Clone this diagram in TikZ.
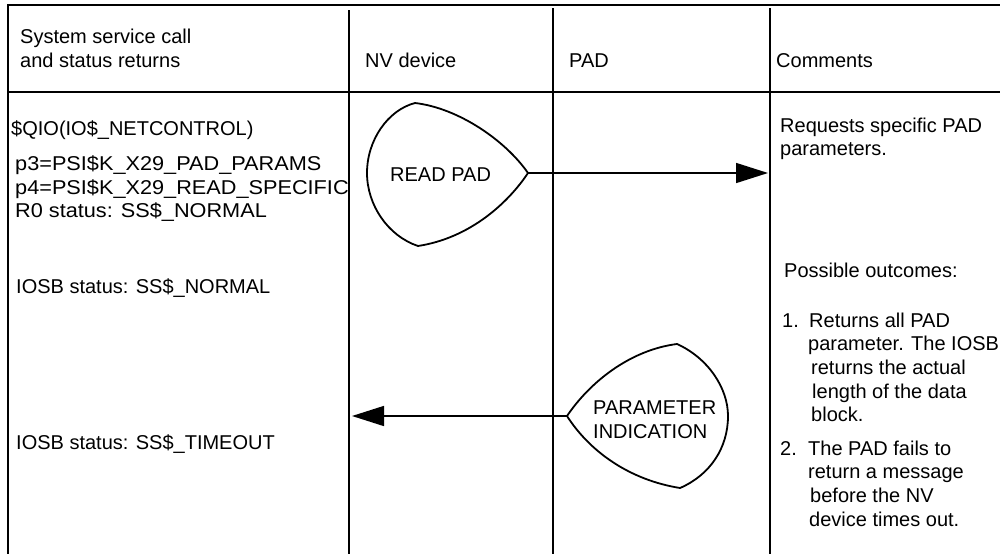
\documentclass[tikz,border=0pt]{standalone}
\usepackage{fontspec}
\setmainfont{Liberation Sans}
\newfontfamily\widesans[FakeStretch=1.085]{Liberation Sans}
\usetikzlibrary{arrows.meta}
\begin{document}
\begin{tikzpicture}[x=1pt,y=-1pt,
  grid/.style={line width=1.8pt},
  blob/.style={line width=1.8pt, line join=round},
  msg/.style={line width=1.5pt, -{Triangle[length=32pt,width=20pt]}},
  txt/.style={anchor=base west, inner sep=0pt, font=\fontsize{20}{23.5}\selectfont},
  widetxt/.style={txt, font=\widesans\fontsize{20}{23.5}\selectfont}]
\useasboundingbox (0,0) rectangle (1000,554);
% table grid
\draw[grid] (7,5) -- (1000,5);
\draw[grid] (8,5) -- (8,554);
\draw[grid] (8,92) -- (1000,92);
\draw[grid] (349,10) -- (349,554);
\draw[grid] (553,8) -- (553,554);
\draw[grid] (770,8) -- (770,554);
% header
\node[txt] (h1a) at (20,43) {System service call};
\node[txt] (h1b) at (20,67) {and status returns};
\node[txt] (h2) at (365,67) {NV device};
\node[txt] (h3) at (569,67) {PAD};
\node[txt] (h4) at (776,67) {Comments};
% left column
\node[txt] (q) at (11,135) {\$QIO(IO\$\_NETCONTROL)};
\node[widetxt] (p3) at (15,170) {p3=PSI\$K\_X29\_PAD\_PARAMS};
\node[widetxt] (p4) at (15,194) {p4=PSI\$K\_X29\_READ\_SPECIFIC};
\node[widetxt] (r0) at (15,217) {R0 status: SS\$\_NORMAL};
\node[txt] (io1) at (16,293) {IOSB status: SS\$\_NORMAL};
\node[txt] (io2) at (16,449) {IOSB status: SS\$\_TIMEOUT};
% READ PAD shape
\draw[blob] (415,103) .. controls (458,108) and (505,140) .. (528,173)
  .. controls (508,203) and (470,238) .. (418,246)
  .. controls (388,236) and (367,205) .. (367,173)
  .. controls (367,140) and (388,110) .. cycle;
\coordinate (rtip) at (528,173);
\coordinate (rend) at (768,173);
\node[txt] (rp) at (390,181) {READ PAD};
\draw[msg] (rtip) -- (rend);
% PARAMETER INDICATION shape
\draw[blob] (567,416) .. controls (590,382) and (630,350) .. (677,344)
  .. controls (708,358) and (728,388) .. (728,416)
  .. controls (728,448) and (710,475) .. (680,488)
  .. controls (630,480) and (590,452) .. cycle;
\coordinate (ptip) at (567,416);
\coordinate (pend) at (352,416);
\node[txt] (pi1) at (593,414) {PARAMETER};
\node[txt] (pi2) at (593,438) {INDICATION};
\draw[msg] (ptip) -- (pend);
% comments
\node[txt] (c1) at (780,132) {Requests specific PAD};
\node[txt] (c2) at (780,155) {parameters.};
\node[txt] (po) at (784,277) {Possible outcomes:};
\node[txt] (n1) at (782,327) {1.};
\node[txt] (l1) at (809,327) {Returns all PAD};
\node[txt] (l2) at (808,350) {parameter. The IOSB};
\node[txt] (l3) at (811,374) {returns the actual};
\node[txt] (l4) at (812,398) {length of the data};
\node[txt] (l5) at (811,421) {block.};
\node[txt] (n2) at (780,455) {2.};
\node[txt] (m1) at (808,455) {The PAD fails to};
\node[txt] (m2) at (808,478) {return a message};
\node[txt] (m3) at (810,502) {before the NV};
\node[txt] (m4) at (809,526) {device times out.};
\end{tikzpicture}
\end{document}
